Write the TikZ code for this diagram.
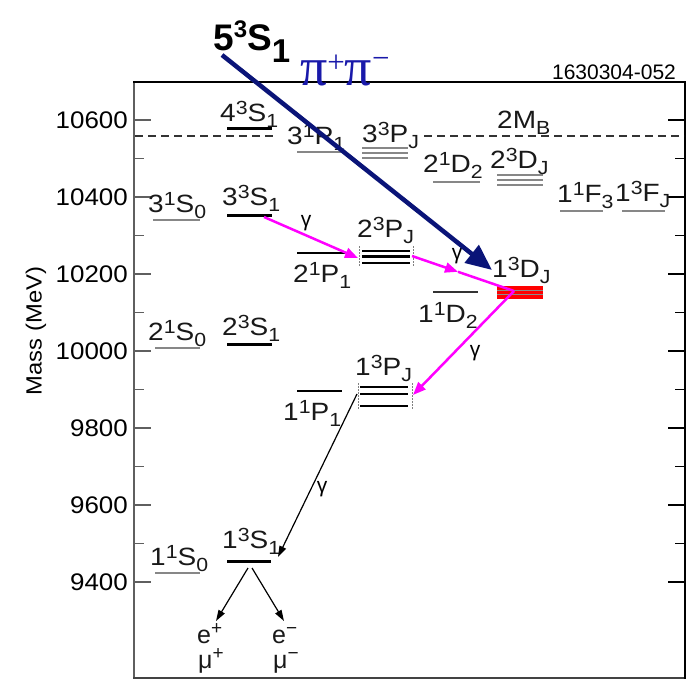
\documentclass[tikz,border=0pt]{standalone}
\usepackage{fontspec}
\usepackage{graphicx}
\setmainfont{Liberation Sans}
\newfontfamily\pifont{Liberation Serif}
\usetikzlibrary{arrows.meta}
\definecolor{navyarrow}{RGB}{10,20,120}
\definecolor{pipair}{RGB}{25,25,170}
\definecolor{pinkg}{RGB}{255,0,255}
\definecolor{predgray}{RGB}{135,135,135}
\definecolor{axisgray}{RGB}{95,95,95}
\newcommand{\st}[4]{\scalebox{1.12}[1]{#1\raisebox{6.5pt}{\fontsize{19}{19}\selectfont #2}#3\raisebox{-6pt}{\fontsize{19}{19}\selectfont #4}}}
\newcommand{\sx}[1]{\scalebox{1.08}[1]{#1}}
\begin{document}
\begin{tikzpicture}[x=1pt,y=-1pt,
  lbl/.style={font=\fontsize{25}{28}\selectfont, inner sep=0pt, anchor=base west, text=black!90},
  obs/.style={line width=3pt, black},
  obsm/.style={line width=2.6pt, black},
  pred/.style={line width=2.5pt, predgray},
  predm/.style={line width=1.4pt, predgray},
  endmark/.style={line width=0.8pt, gray, dash pattern=on 1.5pt off 1.5pt},
  gam/.style={font=\fontsize{21}{24}\selectfont, inner sep=0pt},
  pinkline/.style={pinkg, line width=2.5pt},
  pinkarr/.style={pinkg, line width=2.5pt, -{Triangle[length=13pt,width=10pt]}},
  blackarr/.style={black, line width=1.2pt, -{Triangle[length=11pt,width=7pt]}},
  ticklbl/.style={font=\fontsize{24}{28}\selectfont, anchor=east, inner sep=0pt}
]
\useasboundingbox (0,0) rectangle (695,680);
\fill[white] (0,0) rectangle (695,680);

% frame
\draw[axisgray, line width=2pt] (134,82) -- (134,679);
\draw[axisgray!70!black, line width=2pt] (133,678) -- (686,678);
\draw[black, line width=2pt] (133,82) -- (686,82);
\draw[black, line width=2pt] (685,82) -- (685,679);

% ticks and tick labels
\foreach \m in {9400,9600,...,10600}{
  \pgfmathsetmacro{\yy}{120+(10600-\m)*0.385}
  \draw[axisgray, line width=1.6pt] (134,\yy) -- (151,\yy);
  \draw[black, line width=1.6pt] (668,\yy) -- (685,\yy);
  \node[ticklbl] (t\m) at (128,\yy) {\sx{\m}};
}
\foreach \m in {9500,9700,...,10500}{
  \pgfmathsetmacro{\yy}{120+(10600-\m)*0.385}
  \draw[axisgray, line width=1.6pt] (134,\yy) -- (144,\yy);
  \draw[black, line width=1.6pt] (675,\yy) -- (685,\yy);
}
\node[rotate=90, font=\fontsize{22}{24}\selectfont, inner sep=0pt] (ylab) at (36,331) {\sx{Mass (MeV)}};
\node[font=\fontsize{21}{24}\selectfont, inner sep=0pt] (code) at (614,72) {1630304-052};

% 2 M_B threshold
\draw[black!80, line width=1.3pt, dash pattern=on 8pt off 5pt] (135,136) -- (276,136);
\draw[black!80, line width=1.3pt, dash pattern=on 8pt off 5pt] (424,136) -- (684,136);
\node[lbl] (mb) at (497,128) {\scalebox{1.12}[1]{2M\raisebox{-6pt}{\fontsize{19}{19}\selectfont B}}};

% levels
\draw[obs] (227,128) -- (272,128);
\node[lbl] (s43) at (220,121) {\st{4}{3}{S}{1}};

\draw[pred] (153,220) -- (200,220);
\node[lbl] (s31) at (148,212) {\st{3}{1}{S}{0}};
\draw[obs] (227,215) -- (272,215);
\node[lbl] (s33) at (222,205) {\st{3}{3}{S}{1}};

\draw[pred] (297,152) -- (345,152);
\node[lbl] (p31) at (287,144) {\st{3}{1}{P}{1}};
\draw[predm] (362,148) -- (408,148);
\draw[predm] (362,153) -- (408,153);
\draw[predm] (362,158) -- (408,158);
\node[lbl] (p33) at (362,142) {\st{3}{3}{P}{J}};

\draw[pred] (433,182) -- (480,182);
\node[lbl] (d21) at (423,172) {\st{2}{1}{D}{2}};
\draw[predm] (497,175) -- (543,175);
\draw[predm] (497,180) -- (543,180);
\draw[predm] (497,185) -- (543,185);
\node[lbl] (d23) at (490,168) {\st{2}{3}{D}{J}};

\draw[pred] (560,211) -- (603,211);
\node[lbl] (f11) at (557,202) {\st{1}{1}{F}{3}};
\draw[pred] (622,211) -- (665,211);
\node[lbl] (f13) at (615,201) {\st{1}{3}{F}{J}};

\draw[pred] (155,348) -- (200,348);
\node[lbl] (s21) at (148,340) {\st{2}{1}{S}{0}};
\draw[obs] (227,344) -- (272,344);
\node[lbl] (s23) at (222,335) {\st{2}{3}{S}{1}};

\draw[line width=2pt, black] (297,253) -- (347,253);
\node[lbl] (p21) at (293,282) {\st{2}{1}{P}{1}};
\draw[obsm] (362,251) -- (410,251);
\draw[obsm] (362,256.5) -- (410,256.5);
\draw[obsm] (362,263) -- (410,263);
\draw[endmark] (359,246) -- (359,266);
\draw[endmark] (413,246) -- (413,266);
\node[lbl] (p23) at (357,237) {\st{2}{3}{P}{J}};

\fill[red] (497,285.5) rectangle (543,298.5);
\draw[black!45, line width=0.6pt] (497,290) -- (543,290);
\draw[black!45, line width=0.6pt] (497,294) -- (543,294);
\node[lbl] (d13) at (492,277) {\st{1}{3}{D}{J}};

\draw[line width=2pt, black!80] (433,292) -- (478,292);
\node[lbl] (d11) at (418,322) {\st{1}{1}{D}{2}};

\draw[line width=2pt, black] (297,391) -- (342,391);
\node[lbl] (p11) at (283,420) {\st{1}{1}{P}{1}};
\draw[obsm] (360,387) -- (408,387);
\draw[obsm] (360,394) -- (408,394);
\draw[obsm] (360,406) -- (408,406);
\draw[endmark] (358,383) -- (358,410);
\draw[endmark] (412,383) -- (412,410);
\node[lbl] (p13) at (355,375) {\st{1}{3}{P}{J}};

\draw[pred] (155,573) -- (200,573);
\node[lbl] (s11) at (150,565) {\st{1}{1}{S}{0}};
\draw[obs] (227,561) -- (271,561);
\node[lbl] (s13) at (222,548) {\st{1}{3}{S}{1}};

% transition end points
\coordinate (a3S) at (264,217);
\coordinate (a2PL) at (358,258);
\coordinate (a2PR) at (412,256);
\coordinate (amid) at (458,271.8);
\coordinate (a1D) at (514,291);
\coordinate (a1PR) at (413,395);
\coordinate (a1PL) at (357,394);
\coordinate (a1SR) at (278,557);
\coordinate (a1Sa) at (248,568);
\coordinate (a1Sb) at (252,568);
\coordinate (tipEp) at (216,621);
\coordinate (tipEm) at (284,621);
\coordinate (n0) at (222,55);
\coordinate (n1) at (492,270);

% gamma transitions
\draw[pinkarr] (a3S) -- (a2PL);
\draw[pinkarr] (a2PR) -- (amid);
\draw[pinkline] (amid) -- (a1D);
\draw[pinkarr] (a1D) -- (a1PR);
\draw[blackarr] (a1PL) -- (a1SR);
\node[gam] (g1) at (306,223) {γ};
\node[gam] (g2) at (457,256) {γ};
\node[gam] (g3) at (475,353) {γ};
\node[gam] (g4) at (322,489) {γ};

% leptonic decays
\draw[blackarr] (a1Sa) -- (tipEp);
\draw[blackarr] (a1Sb) -- (tipEm);
\node[lbl] (ep) at (197,643) {e\raisebox{8.5pt}{\fontsize{19}{19}\selectfont +}};
\node[lbl] (mp) at (198,668) {μ\raisebox{8.5pt}{\fontsize{19}{19}\selectfont +}};
\node[lbl] (em) at (272,643) {e\raisebox{8.5pt}{\fontsize{19}{19}\selectfont −}};
\node[lbl] (mm) at (273,668) {μ\raisebox{8.5pt}{\fontsize{19}{19}\selectfont −}};

% Upsilon(5S) -> pi pi transition
\draw[navyarrow, line width=4.5pt, -{Triangle[length=26pt,width=22pt]}] (n0) -- (n1);
\node[font=\bfseries\fontsize{37}{40}\selectfont, anchor=base west, inner sep=0pt] (title) at (213,50)
  {5\raisebox{13pt}{\fontsize{24}{24}\selectfont 3}S\raisebox{-12pt}{\fontsize{33}{33}\selectfont 1}};
\node[font=\pifont\fontsize{54}{58}\selectfont, text=pipair, anchor=base west, inner sep=0pt] (pipi) at (300,85)
  {π\raisebox{13pt}{\fontsize{31}{31}\selectfont +}π\raisebox{17pt}{\fontsize{31}{31}\selectfont −}};
\end{tikzpicture}
\end{document}
